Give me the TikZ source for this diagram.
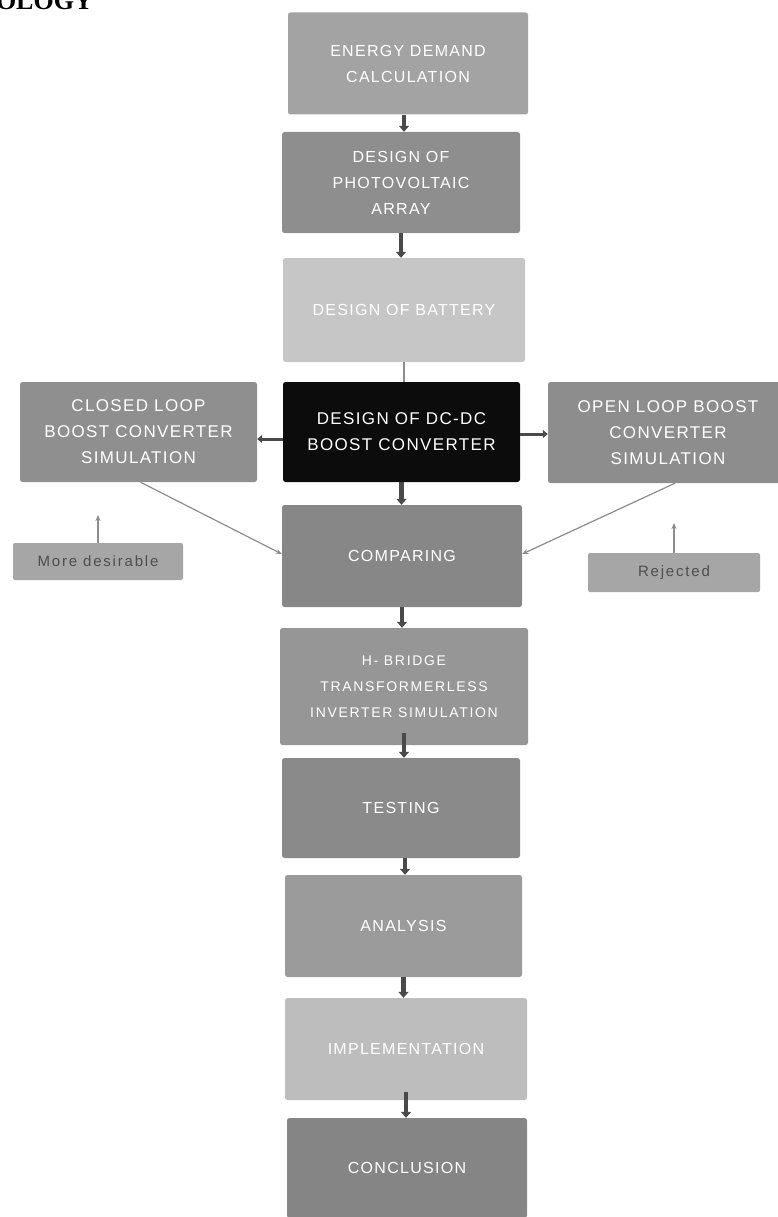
\documentclass[tikz,border=0pt]{standalone}
\usepackage{fontspec}
\setmainfont{Liberation Serif}
\newfontfamily\boxfont[LetterSpace=8]{Liberation Sans}
\newfontfamily\smallboxfont[LetterSpace=12]{Liberation Sans}
\usetikzlibrary{arrows.meta}
\definecolor{cEnergy}{HTML}{A3A3A3}
\definecolor{cPV}{HTML}{8E8E8E}
\definecolor{cBattery}{HTML}{C6C6C6}
\definecolor{cDCDC}{HTML}{0C0C0C}
\definecolor{cClosed}{HTML}{8F8F8F}
\definecolor{cOpen}{HTML}{8D8D8D}
\definecolor{cCompare}{HTML}{878787}
\definecolor{cHBridge}{HTML}{969696}
\definecolor{cTesting}{HTML}{8A8A8A}
\definecolor{cAnalysis}{HTML}{9B9B9B}
\definecolor{cImpl}{HTML}{BDBDBD}
\definecolor{cConcl}{HTML}{858585}
\definecolor{cNote}{HTML}{A6A6A6}
\definecolor{cNoteText}{HTML}{4E4E4E}
\definecolor{cThick}{HTML}{4A4A4A}
\definecolor{cThin}{HTML}{8C8C8C}
\tikzset{
  stepbox/.style={rounded corners=2.5pt, text=white, align=center, inner sep=0pt,
    font=\boxfont\fontsize{16}{26}\selectfont},
  bigbox/.style={stepbox, font=\boxfont\fontsize{17}{26}\selectfont},
  smallbox/.style={stepbox, font=\smallboxfont\fontsize{14}{26}\selectfont},
  notebox/.style={rounded corners=2pt, text=cNoteText, inner sep=0pt,
    font=\smallboxfont\fontsize{15}{18}\selectfont},
  thickarrow/.style={draw=cThick, line width=4.5pt, -{Triangle[width=10pt,length=6pt]}},
  sidearrow/.style={draw=cThick, line width=3pt, -{Triangle[width=8pt,length=5pt]}},
  thinline/.style={draw=cThin, line width=1.8pt},
  thinarrow/.style={draw=cThin, line width=1.2pt, -{Stealth[length=6pt,width=5pt]}}
}
\begin{document}
\begin{tikzpicture}[x=1pt,y=-1pt]
\useasboundingbox (0,0) rectangle (778,1217);
% heading fragment
\node[font=\bfseries\fontsize{26}{26}\selectfont, anchor=base east, inner sep=0pt] (head) at (93,10) {OLOGY};
% main column
\node[stepbox, fill=cEnergy, minimum width=240pt, minimum height=102pt] (energy) at (408,63.5) {ENERGY DEMAND\\CALCULATION};
\node[stepbox, fill=cPV, minimum width=238pt, minimum height=101pt] (pv) at (401,182.5) {DESIGN OF\\PHOTOVOLTAIC\\ARRAY};
\node[stepbox, fill=cBattery, minimum width=242pt, minimum height=104pt] (battery) at (404,310) {DESIGN OF BATTERY};
\node[bigbox, fill=cDCDC, minimum width=237pt, minimum height=100pt] (dcdc) at (401.5,432) {DESIGN OF DC-DC\\BOOST CONVERTER};
\node[bigbox, fill=cClosed, minimum width=237pt, minimum height=100pt] (closed) at (138.5,432) {CLOSED LOOP\\BOOST CONVERTER\\SIMULATION};
\node[bigbox, fill=cOpen, minimum width=240pt, minimum height=101pt] (open) at (668,432.5) {OPEN LOOP BOOST\\CONVERTER\\SIMULATION};
\node[stepbox, fill=cCompare, minimum width=240pt, minimum height=102pt] (compare) at (402,556) {COMPARING};
\node[smallbox, fill=cHBridge, minimum width=248pt, minimum height=117pt] (hbridge) at (404,686.5) {H- BRIDGE\\TRANSFORMERLESS\\INVERTER SIMULATION};
\node[stepbox, fill=cTesting, minimum width=238pt, minimum height=100pt] (testing) at (401,808) {TESTING};
\node[stepbox, fill=cAnalysis, minimum width=237pt, minimum height=102pt] (analysis) at (403.5,926) {ANALYSIS};
\node[stepbox, fill=cImpl, minimum width=242pt, minimum height=102pt] (impl) at (406,1049) {IMPLEMENTATION};
\node[stepbox, fill=cConcl, minimum width=240pt, minimum height=100pt] (concl) at (407,1168) {CONCLUSION};
% notes
\node[notebox, fill=cNote, minimum width=170pt, minimum height=37pt] (desirable) at (98,561.5) {More desirable};
\node[notebox, fill=cNote, minimum width=172pt, minimum height=39pt] (rejected) at (674,572.5) {Rejected};
\coordinate (desTip) at (98,515);
\coordinate (rejTip) at (674,523);
% thick arrows in the column
\draw[thickarrow] ([xshift=-4pt]energy.south) -- ([xshift=-4pt]energy.south |- pv.north);
\draw[thickarrow] (pv.south) -- (pv.south |- battery.north);
\draw[thinline] (battery.south) -- (battery.south |- dcdc.north);
\draw[thickarrow] (dcdc.south) -- (dcdc.south |- compare.north);
\draw[thickarrow] (compare.south) -- (compare.south |- hbridge.north);
\draw[thickarrow] ([yshift=12pt]hbridge.south) -- (hbridge.south |- testing.north);
\draw[thickarrow] ([xshift=4pt]testing.south) -- ([xshift=4pt]testing.south |- analysis.north);
\draw[thickarrow] (analysis.south) -- (analysis.south |- impl.north);
\draw[thickarrow] ([yshift=8pt]impl.south) -- (impl.south |- concl.north);
% side arrows
\draw[sidearrow] ([yshift=-7pt]dcdc.west) -- ([yshift=-7pt]dcdc.west -| closed.east);
\draw[sidearrow] ([yshift=-2pt]dcdc.east) -- ([yshift=-2pt]dcdc.east -| open.west);
% thin arrows to comparing
\draw[thinarrow] ([xshift=2pt]closed.south) -- ([yshift=2pt]compare.west);
\draw[thinarrow] ([xshift=7pt]open.south) -- ([yshift=2pt]compare.east);
\draw[thinarrow] (desirable.north) -- (desTip);
\draw[thinarrow] (rejected.north) -- (rejTip);
\end{tikzpicture}
\end{document}
